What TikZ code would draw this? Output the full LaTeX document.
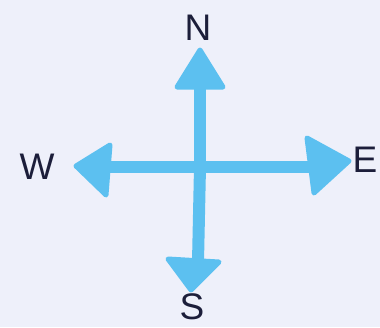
\documentclass[tikz,border=0pt]{standalone}
\usepackage{fontspec}
\setmainfont{Liberation Sans}
\definecolor{ink}{RGB}{92,192,240}
\definecolor{paper}{RGB}{238,240,250}
\definecolor{pen}{RGB}{28,30,58}
\begin{document}
\begin{tikzpicture}[x=1pt,y=-1pt,
  shaft/.style={draw=ink,line width=12pt,line cap=round},
  head/.style={fill=ink,draw=ink,line width=5pt,line join=round},
  lbl/.style={text=pen,font=\fontsize{37}{37}\selectfont,inner sep=0pt}]
\fill[paper] (0,0) rectangle (380,327);
\useasboundingbox (0,0) rectangle (380,327);
\coordinate (c) at (200,167);
\coordinate (nb) at (200,86);
\coordinate (sb) at (198,262);
\coordinate (wb) at (110,167);
\coordinate (eb) at (310,167);
\draw[shaft] (c) -- (nb);
\draw[shaft] (c) -- (sb);
\draw[shaft] (c) -- (wb);
\draw[shaft] (c) -- (eb);
\filldraw[head] (177,87) -- (223,87) -- (200,50) -- cycle;
\filldraw[head] (168,259) -- (219,262) -- (191,290) -- cycle;
\filldraw[head] (76,166) -- (110,145) -- (106,195) -- cycle;
\filldraw[head] (349,161) -- (307,138) -- (314,193) -- cycle;
\node[lbl] (n) at (198,28) {N};
\node[lbl] (s) at (192,307) {S};
\node[lbl] (w) at (37,167) {W};
\node[lbl] (e) at (365,160) {E};
\end{tikzpicture}
\end{document}
